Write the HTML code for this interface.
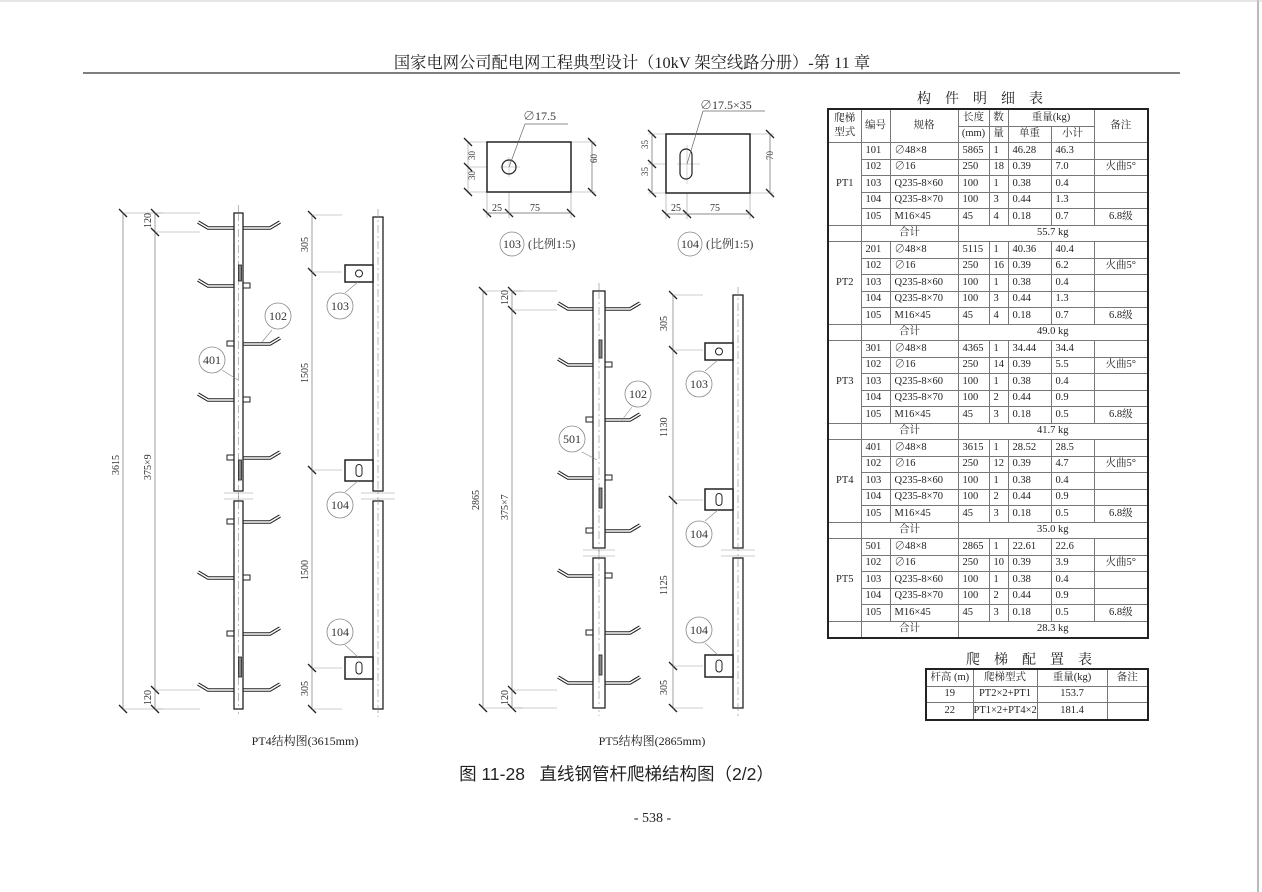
<!DOCTYPE html>
<html><head><meta charset="utf-8">
<style>
body{margin:0;background:#fff;}
#w{position:relative;width:1262px;height:892px;overflow:hidden;background:#fff;font-family:"Liberation Serif","Noto Serif CJK SC",serif;color:#222;}
.t{position:absolute;white-space:nowrap;}
table{position:absolute;border-collapse:collapse;table-layout:fixed;font-size:10.5px;font-family:"Liberation Serif","Noto Serif CJK SC",serif;}
td{border:1px solid #777;padding:0 0 0 4px;height:15.5px;line-height:14px;white-space:nowrap;overflow:hidden;}
td.c{text-align:center;padding:0;}
.tb{border:2px solid #222;}
</style></head><body><div id="w">
<div class="t" style="left:0;top:49px;width:1264px;text-align:center;font-size:16.3px;">国家电网公司配电网工程典型设计（10kV 架空线路分册）-第 11 章</div>
<div class="t" style="left:826px;top:88px;width:322px;text-align:center;font-size:14px;letter-spacing:14px;">构件明细表</div>
<div class="t" style="left:924px;top:649px;width:224px;text-align:center;font-size:14px;letter-spacing:14px;">爬梯配置表</div>
<div class="t" style="left:0;top:761px;width:1233px;text-align:center;font-size:17.5px;font-family:'Liberation Sans','Noto Sans CJK SC',sans-serif;">图 11-28&nbsp;&nbsp;&nbsp;直线钢管杆爬梯结构图（2/2）</div>
<div class="t" style="left:0;top:811px;width:1305px;text-align:center;font-size:14px;">- 538 -</div>
<div class="t" style="left:225px;top:732px;width:160px;text-align:center;font-size:12px;">PT4结构图(3615mm)</div>
<div class="t" style="left:572px;top:732px;width:160px;text-align:center;font-size:12px;">PT5结构图(2865mm)</div>

<svg width="1262" height="892" style="position:absolute;left:0;top:0" id="s" font-family="Liberation Serif,Noto Serif CJK SC,serif" font-size="11" fill="#333">
<line x1="1258" y1="0" x2="1258" y2="892" stroke="#bbb" stroke-width="2"/>
<line x1="0" y1="1" x2="1262" y2="1" stroke="#ccc"/>
<line x1="83" y1="73" x2="1180" y2="73" stroke="#333" stroke-width="1.2"/>
<g id="g"></g>
<rect x="487" y="142" width="84" height="50" fill="none" stroke="#222" stroke-width="1.5"/>
<circle cx="509" cy="167" r="7" fill="none" stroke="#222" stroke-width="1.2"/>
<line x1="509" y1="167" x2="525" y2="124" stroke="#666" stroke-width=".7"/><line x1="525" y1="124" x2="568" y2="124" stroke="#666" stroke-width=".7"/>
<text x="523" y="120" font-size="12">∅17.5</text>
<text x="470" y="165" font-size="9" transform="rotate(-90 470 160)">30</text>
<text x="470" y="185" font-size="9" transform="rotate(-90 470 180)">30</text>
<text x="598" y="170" font-size="9" transform="rotate(-90 594 167)">60</text>
<line x1="592" y1="142" x2="592" y2="192" stroke="#666" stroke-width=".7"/>
<line x1="487" y1="213" x2="571" y2="213" stroke="#666" stroke-width=".7"/>
<text x="492" y="211" font-size="10">25</text><text x="530" y="211" font-size="10">75</text>
<rect x="666" y="134" width="84" height="59" fill="none" stroke="#222" stroke-width="1.5"/>
<rect x="680" y="149" width="12" height="30" rx="6" fill="none" stroke="#222" stroke-width="1.2"/>
<line x1="687" y1="164" x2="703" y2="111" stroke="#666" stroke-width=".7"/><line x1="703" y1="111" x2="765" y2="111" stroke="#666" stroke-width=".7"/>
<text x="700" y="109" font-size="12">∅17.5×35</text>
<text x="644" y="153" font-size="9" transform="rotate(-90 644 149)">35</text>
<text x="644" y="180" font-size="9" transform="rotate(-90 644 176)">35</text>
<text x="773" y="168" font-size="9" transform="rotate(-90 769 164)">70</text>
<line x1="770" y1="134" x2="770" y2="193" stroke="#666" stroke-width=".7"/>
<line x1="652" y1="134" x2="652" y2="193" stroke="#666" stroke-width=".7"/>
<line x1="666" y1="214" x2="750" y2="214" stroke="#666" stroke-width=".7"/>
<text x="671" y="211" font-size="10">25</text><text x="710" y="211" font-size="10">75</text>
<circle cx="512" cy="244" r="12" fill="none" stroke="#888" stroke-width=".8"/><text x="512" y="248" font-size="12" text-anchor="middle">103</text>
<text x="528" y="248" font-size="12">(比例1:5)</text>
<circle cx="690" cy="244" r="12" fill="none" stroke="#888" stroke-width=".8"/><text x="690" y="248" font-size="12" text-anchor="middle">104</text>
<text x="706" y="248" font-size="12">(比例1:5)</text>
<text font-size="10" transform="translate(119 475) rotate(-90)">3615</text>
<text font-size="10" transform="translate(151 480) rotate(-90)">375×9</text>
<text font-size="10" transform="translate(151 228) rotate(-90)">120</text>
<text font-size="10" transform="translate(151 705) rotate(-90)">120</text>
<text font-size="10" transform="translate(308 252) rotate(-90)">305</text>
<text font-size="10" transform="translate(308 383) rotate(-90)">1505</text>
<text font-size="10" transform="translate(308 580) rotate(-90)">1500</text>
<text font-size="10" transform="translate(308 696) rotate(-90)">305</text>
<text font-size="10" transform="translate(479 510) rotate(-90)">2865</text>
<text font-size="10" transform="translate(508 520) rotate(-90)">375×7</text>
<text font-size="10" transform="translate(508 305) rotate(-90)">120</text>
<text font-size="10" transform="translate(508 705) rotate(-90)">120</text>
<text font-size="10" transform="translate(667 331) rotate(-90)">305</text>
<text font-size="10" transform="translate(667 437) rotate(-90)">1130</text>
<text font-size="10" transform="translate(667 595) rotate(-90)">1125</text>
<text font-size="10" transform="translate(667 695) rotate(-90)">305</text>
<g font-size="12" text-anchor="middle">
<circle cx="278" cy="316" r="13" fill="#fff" stroke="#888" stroke-width=".8"/><text x="278" y="320">102</text>
<circle cx="212" cy="360" r="13" fill="#fff" stroke="#888" stroke-width=".8"/><text x="212" y="364">401</text>
<circle cx="340" cy="306" r="13" fill="#fff" stroke="#888" stroke-width=".8"/><text x="340" y="310">103</text>
<circle cx="340" cy="505" r="13" fill="#fff" stroke="#888" stroke-width=".8"/><text x="340" y="509">104</text>
<circle cx="340" cy="632" r="13" fill="#fff" stroke="#888" stroke-width=".8"/><text x="340" y="636">104</text>
<circle cx="638" cy="394" r="13" fill="#fff" stroke="#888" stroke-width=".8"/><text x="638" y="398">102</text>
<circle cx="572" cy="439" r="13" fill="#fff" stroke="#888" stroke-width=".8"/><text x="572" y="443">501</text>
<circle cx="699" cy="384" r="13" fill="#fff" stroke="#888" stroke-width=".8"/><text x="699" y="388">103</text>
<circle cx="699" cy="534" r="13" fill="#fff" stroke="#888" stroke-width=".8"/><text x="699" y="538">104</text>
<circle cx="699" cy="630" r="13" fill="#fff" stroke="#888" stroke-width=".8"/><text x="699" y="634">104</text>
</g>
</svg>

<table class="tb" style="left:827px;top:108px;width:320px;">
<colgroup><col style="width:33px"><col style="width:29px"><col style="width:68px"><col style="width:31px"><col style="width:19px"><col style="width:43px"><col style="width:43px"><col style="width:54px"></colgroup>
<tr><td class="c" rowspan="2">爬梯<br>型式</td><td class="c" rowspan="2">编号</td><td class="c" rowspan="2">规格</td><td class="c">长度</td><td class="c">数</td><td class="c" colspan="2">重量(kg)</td><td class="c" rowspan="2">备注</td></tr>
<tr><td class="c">(mm)</td><td class="c">量</td><td class="c">单重</td><td class="c">小计</td></tr>
<tr><td class="c" rowspan="5">PT1</td><td>101</td><td>∅48×8</td><td>5865</td><td>1</td><td>46.28</td><td>46.3</td><td></td></tr>
<tr><td>102</td><td>∅16</td><td>250</td><td>18</td><td>0.39</td><td>7.0</td><td class="c">火曲5°</td></tr>
<tr><td>103</td><td>Q235-8×60</td><td>100</td><td>1</td><td>0.38</td><td>0.4</td><td></td></tr>
<tr><td>104</td><td>Q235-8×70</td><td>100</td><td>3</td><td>0.44</td><td>1.3</td><td></td></tr>
<tr><td>105</td><td>M16×45</td><td>45</td><td>4</td><td>0.18</td><td>0.7</td><td class="c">6.8级</td></tr>
<tr><td></td><td class="c" colspan="2">合计</td><td class="c" colspan="5">55.7 kg</td></tr>
<tr><td class="c" rowspan="5">PT2</td><td>201</td><td>∅48×8</td><td>5115</td><td>1</td><td>40.36</td><td>40.4</td><td></td></tr>
<tr><td>102</td><td>∅16</td><td>250</td><td>16</td><td>0.39</td><td>6.2</td><td class="c">火曲5°</td></tr>
<tr><td>103</td><td>Q235-8×60</td><td>100</td><td>1</td><td>0.38</td><td>0.4</td><td></td></tr>
<tr><td>104</td><td>Q235-8×70</td><td>100</td><td>3</td><td>0.44</td><td>1.3</td><td></td></tr>
<tr><td>105</td><td>M16×45</td><td>45</td><td>4</td><td>0.18</td><td>0.7</td><td class="c">6.8级</td></tr>
<tr><td></td><td class="c" colspan="2">合计</td><td class="c" colspan="5">49.0 kg</td></tr>
<tr><td class="c" rowspan="5">PT3</td><td>301</td><td>∅48×8</td><td>4365</td><td>1</td><td>34.44</td><td>34.4</td><td></td></tr>
<tr><td>102</td><td>∅16</td><td>250</td><td>14</td><td>0.39</td><td>5.5</td><td class="c">火曲5°</td></tr>
<tr><td>103</td><td>Q235-8×60</td><td>100</td><td>1</td><td>0.38</td><td>0.4</td><td></td></tr>
<tr><td>104</td><td>Q235-8×70</td><td>100</td><td>2</td><td>0.44</td><td>0.9</td><td></td></tr>
<tr><td>105</td><td>M16×45</td><td>45</td><td>3</td><td>0.18</td><td>0.5</td><td class="c">6.8级</td></tr>
<tr><td></td><td class="c" colspan="2">合计</td><td class="c" colspan="5">41.7 kg</td></tr>
<tr><td class="c" rowspan="5">PT4</td><td>401</td><td>∅48×8</td><td>3615</td><td>1</td><td>28.52</td><td>28.5</td><td></td></tr>
<tr><td>102</td><td>∅16</td><td>250</td><td>12</td><td>0.39</td><td>4.7</td><td class="c">火曲5°</td></tr>
<tr><td>103</td><td>Q235-8×60</td><td>100</td><td>1</td><td>0.38</td><td>0.4</td><td></td></tr>
<tr><td>104</td><td>Q235-8×70</td><td>100</td><td>2</td><td>0.44</td><td>0.9</td><td></td></tr>
<tr><td>105</td><td>M16×45</td><td>45</td><td>3</td><td>0.18</td><td>0.5</td><td class="c">6.8级</td></tr>
<tr><td></td><td class="c" colspan="2">合计</td><td class="c" colspan="5">35.0 kg</td></tr>
<tr><td class="c" rowspan="5">PT5</td><td>501</td><td>∅48×8</td><td>2865</td><td>1</td><td>22.61</td><td>22.6</td><td></td></tr>
<tr><td>102</td><td>∅16</td><td>250</td><td>10</td><td>0.39</td><td>3.9</td><td class="c">火曲5°</td></tr>
<tr><td>103</td><td>Q235-8×60</td><td>100</td><td>1</td><td>0.38</td><td>0.4</td><td></td></tr>
<tr><td>104</td><td>Q235-8×70</td><td>100</td><td>2</td><td>0.44</td><td>0.9</td><td></td></tr>
<tr><td>105</td><td>M16×45</td><td>45</td><td>3</td><td>0.18</td><td>0.5</td><td class="c">6.8级</td></tr>
<tr><td></td><td class="c" colspan="2">合计</td><td class="c" colspan="5">28.3 kg</td></tr>
</table>

<table class="tb" style="left:925px;top:668px;width:222px;">
<colgroup><col style="width:47px"><col style="width:64px"><col style="width:70px"><col style="width:41px"></colgroup>
<tr><td class="c">杆高 (m)</td><td class="c">爬梯型式</td><td class="c">重量(kg)</td><td class="c">备注</td></tr>
<tr><td class="c">19</td><td class="c">PT2×2+PT1</td><td class="c">153.7</td><td></td></tr>
<tr><td class="c">22</td><td class="c">PT1×2+PT4×2</td><td class="c">181.4</td><td></td></tr>
</table>
</div>
<script>
var g=document.getElementById('g'),h='';
function L(a,b,c,d,w,col,dash){h+='<line x1="'+a+'" y1="'+b+'" x2="'+c+'" y2="'+d+'" stroke="'+(col||'#222')+'" stroke-width="'+(w||1)+'"'+(dash?' stroke-dasharray="'+dash+'"':'')+'/>';}
function R(x,y,w,hh,sw){h+='<rect x="'+x+'" y="'+y+'" width="'+w+'" height="'+hh+'" fill="#fff" stroke="#222" stroke-width="'+(sw||1.3)+'"/>';}
function P(d){h+='<path d="'+d+'" fill="none" stroke="#222" stroke-width="3.6"/><path d="'+d+'" fill="none" stroke="#fff" stroke-width="1.4"/>';}
function tick(x,y){L(x-4,y-4,x+4,y+4,1.3);}
function dim(x,ys,ext){L(x,ys[0],x,ys[ys.length-1],.7,'#777');ys.forEach(function(y){tick(x,y);L(x,y,x+ext,y,.6,'#999');});}
function ladder(x1,x2,top,bot,brk,rungs,slots,le,lh,re,rh){
 var cx=(x1+x2)/2;
 L(cx,top-8,cx,bot+8,.6,'#888','8,3,2,3');
 rungs.forEach(function(r){var y=r[0],s=r[1];
  if(s!='R'){P('M'+x1+' '+y+' L'+lh+' '+y+' L'+le+' '+(y-6));}else{R(x1-7,y-3,7,5,1);}
  if(s!='L'){P('M'+x2+' '+y+' L'+rh+' '+y+' L'+re+' '+(y-6));}else{R(x2,y-3,7,5,1);}
 });
 R(x1,top,x2-x1,brk[0]-top);R(x1,brk[1],x2-x1,bot-brk[1]);
 L(cx,top,cx,bot,.6,'#888','8,3,2,3');
 L(x1-10,brk[0]+2,x2+10,brk[0]+2,.6,'#999');L(x1-10,brk[1]-2,x2+10,brk[1]-2,.6,'#999');
 slots.forEach(function(s){h+='<rect x="'+(cx+0)+'" y="'+s[0]+'" width="3" height="'+(s[1]-s[0])+'" fill="#888" stroke="#222" stroke-width=".8"/>';});
}
function side(x1,x2,top,bot,brk,br){
 var cx=(x1+x2)/2;
 R(x1,top,x2-x1,brk[0]-top);R(x1,brk[1],x2-x1,bot-brk[1]);
 L(cx,top-8,cx,bot+8,.6,'#888','8,3,2,3');
 L(x1-12,brk[0]+2,x2+12,brk[0]+2,.6,'#999');L(x1-12,brk[1]-2,x2+12,brk[1]-2,.6,'#999');
 br.forEach(function(b){R(x1-28,b[0],28,b[1]-b[0],1.5);var cy=(b[0]+b[1])/2;
  if(b[2])h+='<circle cx="'+(x1-14)+'" cy="'+cy+'" r="3.5" fill="none" stroke="#222"/>';
  else h+='<rect x="'+(x1-17)+'" y="'+(cy-6)+'" width="6" height="12" rx="3" fill="none" stroke="#222"/>';});
}
ladder(234,243,213,709,[491,501],[[228,'B'],[286,'L'],[344,'R'],[400,'L'],[458,'R'],[522,'R'],[578,'L'],[634,'R'],[690,'B']],[[265,281],[460,480],[657,677]],198,208,280,270);
dim(123,[213,709],40);dim(155,[213,232,690,709],45);
side(373,383,217,709,[491,501],[[265,282,1],[460,481,0],[657,679,0]]);
dim(312,[215,272,470,668,709],30);
L(272,330,262,342,.6,'#888');L(222,370,238,380,.6,'#888');
L(345,293,358,282,.6,'#888');L(345,492,358,481,.6,'#888');L(345,645,358,657,.6,'#888');
ladder(593,605,291,708,[548,558],[[309,'B'],[365,'L'],[420,'R'],[478,'L'],[531,'R'],[576,'L'],[633,'R'],[683,'B']],[[340,358],[488,508],[655,675]],558,568,640,630);
dim(483,[291,708],40);dim(512,[291,310,690,708],45);
side(733,743,295,708,[548,558],[[343,360,1],[489,510,0],[655,677,0]]);
dim(673,[295,350,500,666,708],30);
L(632,407,622,420,.6,'#888');L(582,452,597,460,.6,'#888');
L(705,371,718,360,.6,'#888');L(705,521,718,510,.6,'#888');L(705,643,718,655,.6,'#888');
L(487,192,487,218,.6,'#999');L(509,192,509,218,.6,'#999');L(571,192,571,218,.6,'#999');tick(487,213);tick(509,213);tick(571,213);
L(468,142,487,142,.6,'#999');L(468,167,487,167,.6,'#999');L(468,192,487,192,.6,'#999');L(468,142,468,192,.6,'#999');tick(468,142);tick(468,167);tick(468,192);
L(571,142,596,142,.6,'#999');L(571,192,596,192,.6,'#999');tick(592,142);tick(592,192);
L(666,193,666,219,.6,'#999');L(687,193,687,219,.6,'#999');L(750,193,750,219,.6,'#999');tick(666,214);tick(687,214);tick(750,214);
L(648,134,666,134,.6,'#999');L(648,164,666,164,.6,'#999');L(648,193,666,193,.6,'#999');tick(652,134);tick(652,164);tick(652,193);
L(750,134,774,134,.6,'#999');L(750,193,774,193,.6,'#999');tick(770,134);tick(770,193);
L(500,167,520,167,.5,'#aaa');L(509,157,509,177,.5,'#aaa');L(677,164,700,164,.5,'#aaa');L(687,145,687,184,.5,'#aaa');
g.innerHTML=h;
</script>
</body></html>
